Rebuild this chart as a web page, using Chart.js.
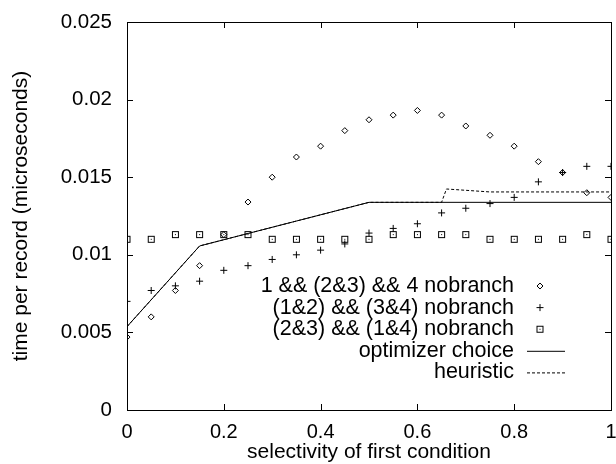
<!DOCTYPE html>
<html>
<head>
<meta charset="utf-8">
<script src="https://cdn.jsdelivr.net/npm/chart.js@4.4.1/dist/chart.umd.min.js"></script>
<style>
  html, body { margin: 0; padding: 0; background: #fff; }
  #chart { display: block; }
</style>
</head>
<body>
<canvas id="chart" width="616" height="464"></canvas>
<script>
// selectivity values where the three plans were measured
const selectivity = [0, 0.05, 0.1, 0.15, 0.2, 0.25, 0.3, 0.35, 0.4, 0.45, 0.5,
  0.55, 0.6, 0.65, 0.7, 0.75, 0.8, 0.85, 0.9, 0.95, 1];

const plan1Times = [0.0047, 0.0060, 0.0077, 0.0093, 0.0113, 0.0134, 0.0150, 0.0163, 0.0170, 0.0180, 0.0187,
  0.0190, 0.0193, 0.0190, 0.0183, 0.0177, 0.0170, 0.0160, 0.0153, 0.0140, 0.0137];
const plan2Times = [0.0070, 0.0077, 0.0080, 0.0083, 0.0090, 0.0093, 0.0097, 0.0100, 0.0103, 0.0107, 0.0114,
  0.0117, 0.0120, 0.0127, 0.0130, 0.0133, 0.0137, 0.0147, 0.0153, 0.0157, 0.0157];
const plan3Times = [0.0110, 0.0110, 0.0113, 0.0113, 0.0113, 0.0113, 0.0110, 0.0110, 0.0110, 0.0110, 0.0110,
  0.0113, 0.0113, 0.0113, 0.0113, 0.0110, 0.0110, 0.0110, 0.0110, 0.0113, 0.0110];

const optimizerX = [0, 0.15, 0.5, 1];
const optimizerTimes = [0.00537, 0.01057, 0.01338, 0.01338];

const heuristicX = [0, 0.15, 0.5, 0.65, 0.66, 0.75, 1];
const heuristicTimes = [0.00537, 0.01057, 0.01338, 0.01338, 0.01424, 0.01405, 0.01405];

const seriesLabels = [
  '1 && (2&3) && 4 nobranch',
  '(1&2) && (3&4) nobranch',
  '(2&3) && (1&4) nobranch',
  'optimizer choice',
  'heuristic'
];

const xTicks = [0, 0.2, 0.4, 0.6, 0.8, 1];
const xTickLabels = ['0', '0.2', '0.4', '0.6', '0.8', '1'];
const yTicks = [0, 0.005, 0.01, 0.015, 0.02, 0.025];
const yTickLabels = ['0', '0.005', '0.01', '0.015', '0.02', '0.025'];

const FONT = 'Liberation Sans, Arial, Helvetica, sans-serif';

// gnuplot style box with a dot in the middle
const boxPoint = document.createElement('canvas');
boxPoint.width = 9;
boxPoint.height = 9;
(function () {
  const c = boxPoint.getContext('2d');
  c.strokeStyle = '#000';
  c.lineWidth = 1;
  c.strokeRect(1.5, 1.5, 6, 6);
  c.fillStyle = '#000';
  c.fillRect(4, 4, 1, 1);
})();

const pairs = (xs, ys) => xs.map((x, i) => ({ x: x, y: ys[i] }));

// box round the plot plus inward tick marks on all four sides
const frame = {
  id: 'frame',
  afterDatasetsDraw(chart) {
    const { ctx, chartArea: a } = chart;
    const xs = chart.scales.x, ys = chart.scales.y;
    ctx.save();
    ctx.strokeStyle = '#000';
    ctx.lineWidth = 1;
    ctx.beginPath();
    xTicks.forEach(v => {
      const px = Math.round(xs.getPixelForValue(v)) + 0.5;
      ctx.moveTo(px, a.bottom); ctx.lineTo(px, a.bottom - 6);
      ctx.moveTo(px, a.top); ctx.lineTo(px, a.top + 6);
    });
    yTicks.forEach(v => {
      const py = Math.round(ys.getPixelForValue(v)) + 0.5;
      ctx.moveTo(a.left, py); ctx.lineTo(a.left + 6, py);
      ctx.moveTo(a.right, py); ctx.lineTo(a.right - 6, py);
    });
    ctx.stroke();
    ctx.strokeRect(Math.round(a.left) + 0.5, Math.round(a.top) + 0.5,
      Math.round(a.right - a.left), Math.round(a.bottom - a.top));
    ctx.restore();
  }
};

// key inside the plot: text right aligned, sample on its right
const keyBox = {
  id: 'keyBox',
  afterDraw(chart) {
    const { ctx, chartArea: a } = chart;
    const textRight = a.right - 97;
    const sampleX = a.right - 71;
    const lineFrom = a.right - 84, lineTo = a.right - 46;
    let y = a.top + 264;
    ctx.save();
    ctx.font = '21.5px ' + FONT;
    ctx.textAlign = 'right';
    ctx.textBaseline = 'middle';
    chart.data.datasets.forEach(ds => {
      ctx.fillStyle = '#000';
      ctx.fillText(ds.label, textRight, y);
      ctx.strokeStyle = '#000';
      ctx.lineWidth = 1;
      if (ds.showLine) {
        ctx.setLineDash(ds.borderDash || []);
        ctx.beginPath();
        ctx.moveTo(lineFrom, y + 0.5);
        ctx.lineTo(lineTo, y + 0.5);
        ctx.stroke();
        ctx.setLineDash([]);
      } else {
        ctx.fillStyle = 'rgba(0,0,0,0)';
        Chart.helpers.drawPoint(ctx, {
          pointStyle: ds.pointStyle,
          radius: ds.pointRadius,
          borderWidth: 1
        }, sampleX, y);
      }
      y += 21.6;
    });
    ctx.restore();
  }
};

new Chart(document.getElementById('chart'), {
  type: 'scatter',
  data: {
    datasets: [
      {
        label: seriesLabels[0],
        data: pairs(selectivity, plan1Times),
        pointStyle: 'rectRot',
        pointRadius: 3,
        pointBorderWidth: 1,
        borderColor: '#000',
        backgroundColor: 'rgba(0,0,0,0)',
        showLine: false
      },
      {
        label: seriesLabels[1],
        data: pairs(selectivity, plan2Times),
        pointStyle: 'cross',
        pointRadius: 3.5,
        pointBorderWidth: 1,
        borderColor: '#000',
        backgroundColor: 'rgba(0,0,0,0)',
        showLine: false
      },
      {
        label: seriesLabels[2],
        data: pairs(selectivity, plan3Times),
        pointStyle: boxPoint,
        pointRadius: 4,
        borderColor: '#000',
        backgroundColor: 'rgba(0,0,0,0)',
        showLine: false
      },
      {
        label: seriesLabels[3],
        data: pairs(optimizerX, optimizerTimes),
        showLine: true,
        pointRadius: 0,
        borderColor: '#000',
        borderWidth: 1,
        tension: 0
      },
      {
        label: seriesLabels[4],
        data: pairs(heuristicX, heuristicTimes),
        showLine: true,
        pointRadius: 0,
        borderColor: '#000',
        borderWidth: 1,
        borderDash: [3, 2],
        tension: 0
      }
    ]
  },
  options: {
    responsive: false,
    animation: false,
    layout: { padding: { top: 22, right: 3, left: 0, bottom: 0 } },
    plugins: {
      legend: { display: false },
      tooltip: { enabled: false }
    },
    scales: {
      x: {
        type: 'linear',
        min: 0,
        max: 1,
        afterBuildTicks: s => { s.ticks = xTicks.map(v => ({ value: v })); },
        afterFit: s => { s.height = 54; s.paddingLeft = 0; s.paddingRight = 0; },
        grid: { display: false, drawTicks: false },
        border: { display: false },
        ticks: {
          color: '#000',
          padding: 10,
          maxRotation: 0,
          autoSkip: false,
          font: { family: FONT, size: 20 },
          callback: (v, i) => xTickLabels[i]
        },
        title: {
          display: true,
          text: 'selectivity of first condition',
          color: '#000',
          padding: { top: 0, bottom: -1 },
          font: { family: FONT, size: 21 }
        }
      },
      y: {
        type: 'linear',
        min: 0,
        max: 0.025,
        afterBuildTicks: s => { s.ticks = yTicks.map(v => ({ value: v })); },
        afterFit: s => { s.width = 127; s.paddingTop = 0; s.paddingBottom = 0; },
        grid: { display: false, drawTicks: false },
        border: { display: false },
        ticks: {
          color: '#000',
          padding: 15,
          autoSkip: false,
          font: { family: FONT, size: 20.5 },
          callback: (v, i) => yTickLabels[i]
        },
        title: {
          display: true,
          text: 'time per record (microseconds)',
          color: '#000',
          padding: { top: 9, bottom: 0 },
          font: { family: FONT, size: 21 }
        }
      }
    }
  },
  plugins: [frame, keyBox]
});
</script>
</body>
</html>
